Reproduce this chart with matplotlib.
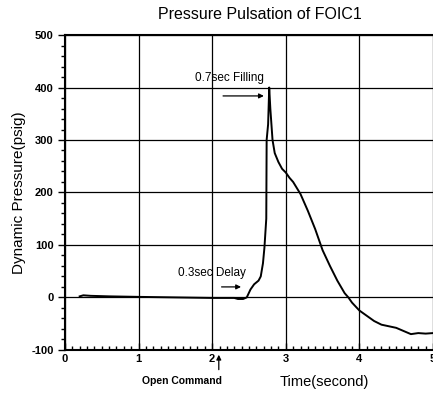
import numpy as np
import matplotlib.pyplot as plt
from matplotlib.ticker import MultipleLocator

plt.rcParams['font.family'] = ['Liberation Sans', 'DejaVu Sans']
plt.rcParams['axes.unicode_minus'] = False

# pressure trace
time_s = [0.20, 0.25, 0.35, 0.6, 1.0, 1.5, 2.0, 2.3, 2.35, 2.42, 2.47, 2.52,
          2.57, 2.63, 2.66, 2.69, 2.71, 2.735, 2.74, 2.76, 2.775, 2.79, 2.82,
          2.85, 2.9, 2.95, 3.0, 3.05, 3.1, 3.2, 3.3, 3.4, 3.5, 3.6, 3.7, 3.8,
          3.85, 3.9, 4.0, 4.1, 4.2, 4.3, 4.4, 4.5, 4.6, 4.7, 4.8, 4.9, 5.0]
pressure = [2, 4, 3, 2, 1, 0, -1, -1, -3, -3, 0, 15,
            25, 32, 40, 65, 95, 150, 300, 330, 400, 360, 300,
            275, 258, 245, 238, 228, 220, 197, 165, 130, 90, 60, 32, 8,
            0, -10, -25, -35, -45, -52, -55, -58, -64, -70, -68, -69, -68]

xticks = [0, 1, 2, 3, 4, 5]
yticks = [-100, 0, 100, 200, 300, 400, 500]

fig = plt.figure(figsize=(4.33, 3.94), dpi=100)
ax = fig.add_axes([0.150, 0.112, 0.85, 0.799])

ax.plot(time_s, pressure, color='black', lw=1.4)

ax.set_xlim(0, 5)
ax.set_ylim(-100, 500)
ax.set_xticks(xticks)
ax.set_yticks(yticks)
ax.xaxis.set_minor_locator(MultipleLocator(0.1))
ax.yaxis.set_minor_locator(MultipleLocator(20))
ax.tick_params(axis='y', which='both', direction='out', right=False)
ax.tick_params(axis='x', which='both', direction='in', top=False)
ax.tick_params(which='major', length=5, width=1, labelsize=8, pad=3)
ax.tick_params(which='minor', length=3, width=1)
for lab in ax.get_xticklabels() + ax.get_yticklabels():
    lab.set_fontweight('bold')
ax.grid(True, which='major', color='black', lw=0.9)
for s in ['left', 'bottom', 'top']:
    ax.spines[s].set_linewidth(1.5)
ax.spines['right'].set_visible(False)

fig.text(0.60, 0.962, 'Pressure Pulsation of FOIC1', ha='center', va='center', fontsize=11.5)
ax.set_ylabel('Dynamic Pressure(psig)', fontsize=11, labelpad=4)
ax.text(3.53, -162, 'Time(second)', ha='center', va='center', fontsize=10.5, clip_on=False)
ax.text(1.59, -160, 'Open Command', ha='center', va='center', fontsize=7.5,
        fontweight='bold', clip_on=False)

ax.text(1.76, 418, '0.7sec Filling', ha='left', va='center', fontsize=8.5)
ax.annotate('', xy=(2.74, 384), xytext=(2.11, 384),
            arrowprops=dict(arrowstyle='-|>', color='black', lw=0.9, mutation_scale=7))
ax.text(1.53, 47, '0.3sec Delay', ha='left', va='center', fontsize=8.5)
ax.annotate('', xy=(2.43, 20), xytext=(2.09, 20),
            arrowprops=dict(arrowstyle='-|>', color='black', lw=0.9, mutation_scale=7))
ax.annotate('', xy=(2.09, -104), xytext=(2.09, -143),
            arrowprops=dict(arrowstyle='-|>', color='black', lw=0.9, mutation_scale=7),
            annotation_clip=False)

fig.savefig('out.png', dpi=100)
